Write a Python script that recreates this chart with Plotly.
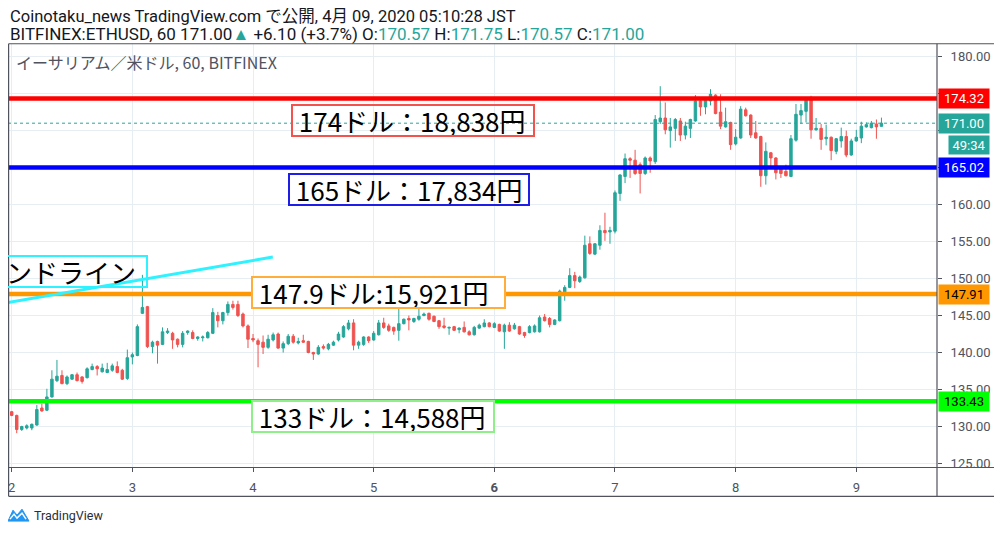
import pandas as pd
import plotly.graph_objects as go

# hourly candles, 2020-04-01 23:00 JST .. 2020-04-09 05:00 JST
times = pd.date_range("2020-04-01 23:00", periods=175, freq="h")

opens = [
    131.1, 132.0, 131.5, 129.6, 129.8, 129.8, 130.2, 132.5, 132.2, 134.0,
    136.2, 136.9, 135.8, 136.4, 137.0, 136.7, 136.6, 137.7, 138.1, 137.4,
    137.3, 137.6, 138.1, 137.6, 136.5, 139.4, 139.6, 145.3, 146.2, 140.8,
    141.5, 141.1, 142.7, 142.6, 141.8, 141.1, 142.7, 142.7, 141.9, 142.0,
    142.0, 142.6, 145.0, 144.3, 145.4, 146.5, 146.5, 145.2, 143.6, 141.9,
    141.6, 141.4, 140.7, 141.7, 142.5, 140.6, 141.2, 142.2, 141.3, 141.6,
    141.5, 140.0, 139.8, 140.8, 140.5, 141.0, 141.7, 142.1, 143.2, 144.0,
    141.0, 141.1, 142.1, 141.7, 142.4, 144.0, 143.6, 143.4, 143.0, 143.9,
    144.6, 144.2, 144.5, 145.0, 145.3, 144.9, 144.3, 143.6, 143.3, 143.5,
    143.1, 143.4, 142.8, 142.4, 143.3, 143.5, 144.0, 143.4, 143.8, 142.8,
    143.7, 143.2, 143.5, 142.7, 142.7, 142.8, 142.8, 144.8, 144.6, 143.8,
    144.3, 148.2, 148.8, 150.4, 149.6, 150.1, 154.7, 153.3, 154.5, 156.5,
    156.3, 156.4, 161.5, 163.8, 166.2, 166.0, 165.4, 164.2, 166.3, 165.8,
    171.2, 171.7, 170.0, 170.3, 171.3, 169.4, 170.3, 171.3, 174.0, 173.2,
    174.0, 174.8, 172.5, 170.5, 171.1, 168.2, 169.0, 172.8, 172.1, 169.7,
    169.2, 163.9, 167.0, 166.3, 164.9, 164.5, 163.8, 168.7, 172.1, 172.6,
    174.2, 170.1, 170.3, 168.9, 169.1, 167.2, 168.6, 169.2, 166.7, 168.6,
    169.0, 170.5, 170.4, 170.9, 170.57,
]
highs = [
    131.8, 132.1, 131.6, 130.1, 130.3, 130.4, 132.9, 133.1, 135.1, 137.6,
    139.0, 137.6, 136.9, 137.1, 137.3, 136.8, 138.0, 138.5, 138.3, 138.5,
    138.6, 138.5, 138.8, 137.8, 140.4, 140.0, 143.8, 150.5, 146.3, 141.6,
    141.6, 143.4, 143.3, 142.8, 141.9, 142.9, 143.0, 143.0, 142.2, 142.3,
    142.9, 146.0, 145.5, 145.5, 146.9, 147.0, 147.0, 145.4, 143.8, 142.5,
    141.9, 142.3, 142.4, 142.7, 142.7, 141.5, 142.5, 142.5, 142.0, 142.4,
    141.6, 140.1, 141.0, 141.1, 141.3, 141.6, 142.8, 143.7, 144.4, 144.5,
    141.6, 142.2, 142.2, 142.9, 144.4, 144.7, 143.9, 143.5, 146.6, 144.6,
    145.0, 144.7, 146.3, 145.4, 145.4, 145.0, 144.4, 144.7, 143.5, 143.6,
    143.4, 144.2, 143.0, 143.6, 143.9, 144.5, 144.1, 144.1, 143.9, 143.9,
    144.1, 144.0, 143.6, 142.8, 143.7, 143.8, 145.0, 145.2, 144.8, 144.5,
    148.5, 149.1, 151.4, 150.9, 150.4, 155.8, 155.7, 154.8, 157.2, 158.9,
    157.0, 161.9, 164.1, 166.9, 166.4, 167.4, 165.7, 166.5, 166.5, 172.1,
    176.0, 173.8, 171.7, 171.7, 171.7, 171.2, 171.6, 174.8, 174.5, 174.2,
    175.6, 174.9, 174.9, 173.1, 171.2, 170.2, 173.3, 173.1, 172.2, 171.3,
    169.3, 168.4, 167.1, 166.4, 165.0, 165.4, 169.4, 173.6, 173.6, 174.3,
    174.7, 171.7, 170.9, 170.8, 169.2, 169.0, 170.4, 170.0, 168.9, 170.1,
    171.2, 171.1, 171.3, 171.5, 171.75,
]
lows = [
    131.0, 131.4, 129.1, 129.4, 129.6, 129.5, 130.1, 132.0, 132.1, 133.9,
    136.0, 135.7, 135.6, 136.3, 136.1, 135.8, 136.5, 137.6, 136.9, 137.3,
    137.2, 137.4, 137.2, 136.3, 136.3, 138.4, 139.5, 145.2, 140.6, 139.9,
    138.5, 141.0, 142.5, 140.5, 140.7, 140.7, 142.4, 141.8, 141.6, 141.5,
    141.9, 142.5, 143.4, 143.8, 145.0, 145.8, 144.8, 143.4, 140.6, 141.4,
    138.0, 139.8, 140.5, 141.5, 140.5, 140.0, 141.0, 141.2, 141.1, 141.3,
    139.9, 139.0, 139.7, 140.4, 140.3, 140.9, 141.5, 142.0, 143.0, 140.3,
    140.5, 140.9, 141.3, 141.6, 142.3, 143.2, 142.8, 142.4, 141.6, 143.8,
    143.0, 144.0, 144.3, 144.9, 144.3, 144.1, 143.2, 143.2, 142.4, 142.9,
    142.6, 142.7, 142.3, 142.3, 143.2, 143.4, 143.4, 143.3, 142.8, 140.5,
    142.8, 143.1, 142.4, 142.0, 142.6, 142.7, 142.7, 144.2, 143.4, 143.7,
    144.2, 147.0, 148.7, 148.7, 149.4, 150.0, 153.2, 153.2, 153.9, 155.1,
    154.7, 156.1, 160.5, 162.9, 163.6, 164.0, 161.5, 164.0, 164.3, 165.5,
    170.9, 169.5, 167.7, 168.6, 168.6, 168.8, 169.0, 171.2, 172.0, 172.2,
    173.4, 172.2, 170.2, 170.4, 167.4, 168.0, 168.9, 171.9, 169.0, 168.9,
    162.4, 162.7, 164.9, 163.4, 163.6, 163.8, 163.7, 168.5, 170.9, 171.1,
    168.9, 170.0, 167.4, 168.0, 166.0, 166.8, 167.7, 166.4, 166.6, 168.5,
    168.3, 170.4, 170.3, 168.9, 170.57,
]
closes = [
    131.7, 131.5, 129.6, 130.0, 130.1, 130.3, 132.3, 132.1, 134.0, 136.4,
    136.8, 135.8, 136.7, 137.0, 136.2, 136.1, 137.8, 138.1, 137.8, 137.9,
    137.7, 138.2, 137.3, 136.4, 139.3, 139.7, 143.5, 146.1, 140.8, 141.4,
    141.0, 142.8, 142.9, 141.7, 141.1, 142.6, 142.9, 141.9, 142.1, 142.1,
    142.7, 145.4, 144.3, 145.4, 146.5, 146.1, 145.0, 143.6, 141.8, 141.7,
    141.1, 140.7, 141.8, 142.4, 140.6, 141.2, 142.2, 141.4, 141.5, 141.4,
    140.0, 139.8, 140.7, 140.6, 141.1, 141.4, 142.5, 143.5, 144.0, 141.0,
    141.4, 142.1, 141.6, 142.6, 144.0, 143.4, 143.0, 142.9, 143.9, 144.5,
    144.4, 144.6, 144.9, 145.2, 144.5, 144.2, 143.5, 143.4, 143.4, 143.0,
    143.3, 142.8, 142.4, 143.4, 143.7, 144.0, 143.5, 143.9, 142.9, 143.7,
    142.9, 143.7, 142.5, 142.3, 143.5, 143.6, 144.7, 144.3, 143.8, 144.4,
    148.3, 148.8, 150.4, 149.7, 150.2, 154.5, 153.4, 154.7, 156.5, 156.2,
    156.5, 161.6, 164.0, 166.2, 166.0, 164.2, 164.2, 166.3, 165.9, 171.5,
    171.7, 170.1, 170.5, 171.5, 169.4, 170.6, 171.5, 174.0, 173.2, 174.1,
    174.9, 172.3, 170.6, 171.2, 168.1, 169.1, 172.9, 172.0, 169.4, 169.0,
    163.9, 167.2, 166.3, 164.3, 164.2, 163.9, 168.9, 172.2, 172.7, 174.1,
    170.1, 170.3, 168.8, 169.1, 167.3, 168.9, 169.2, 166.7, 168.6, 169.1,
    170.6, 170.8, 171.0, 170.5, 171.00,
]

# horizontal levels drawn on the chart
levels = [174.32, 165.02, 147.91, 133.43]
level_colors = ["#ff0000", "#0000ff", "#ff9800", "#00ff00"]
level_text_colors = ["white", "white", "black", "black"]
last_price = 171.00
countdown = "49:34"

day_ticks = pd.date_range("2020-04-02", "2020-04-09", freq="D")
day_labels = ["2", "3", "4", "5", "<b>6</b>", "7", "8", "9"]

# price axis labels (the ones under the price tags are covered in the original)
price_ticks = [125, 130, 135, 140, 145, 150, 155, 160, 165, 170, 175, 180]
price_labels = ["125.00", "130.00", "135.00", "140.00", "145.00", "150.00",
                "155.00", "160.00", "", "", "", "180.00"]

# the page puts the figure 8px in from the top-left corner
OFF = 8
W, H = 1002 - OFF, 537 - OFF
UP, DOWN = "#26a69a", "#ef5350"
FRAME = "#50535e"
GRID = "#e6eef3"


def px(x):
    return (x - OFF) / W


def py(y):
    return 1 - (y - OFF) / H


fig = go.Figure()

fig.add_trace(
    go.Candlestick(
        x=times,
        open=opens,
        high=highs,
        low=lows,
        close=closes,
        increasing=dict(line=dict(color=UP, width=1), fillcolor=UP),
        decreasing=dict(line=dict(color=DOWN, width=1), fillcolor=DOWN),
        whiskerwidth=0,
        showlegend=False,
        hoverinfo="skip",
    )
)

shapes = []

# 現在値の点線
shapes.append(dict(type="line", xref="x domain", yref="y", x0=0, x1=1,
                   y0=last_price, y1=last_price,
                   line=dict(color=UP, width=1, dash="dot")))

# 水平線
for lv, col in zip(levels, level_colors):
    shapes.append(dict(type="line", xref="x domain", yref="y", x0=0, x1=1,
                       y0=lv, y1=lv, line=dict(color=col, width=4.5)))

# トレンドライン
shapes.append(dict(type="line", xref="x", yref="y",
                   x0="2020-04-01 23:15", y0=146.75,
                   x1="2020-04-04 03:56", y1=152.9,
                   line=dict(color="#2ef2ff", width=3)))

# frame
frame = [
    (8.6, 44, 997, 44), (8.6, 44, 8.6, 500), (997, 44, 997, 500),
    (8.6, 500, 997, 500), (8.6, 471, 997, 471), (937, 44, 937, 500),
]
for x0, y0, x1, y1 in frame:
    shapes.append(dict(type="line", xref="paper", yref="paper",
                       x0=px(x0), y0=py(y0), x1=px(x1), y1=py(y1),
                       line=dict(color=FRAME, width=1.2)))

# TradingView logo
logo = [(8, 525), (13, 514), (17, 519), (22, 513), (29, 525)]
path = "M " + " L ".join(f"{px(a)},{py(b)}" for a, b in logo) + " Z"
shapes.append(dict(type="path", xref="paper", yref="paper", path=path,
                   fillcolor="#2196f3", line=dict(color="#2196f3", width=1)))
zig = [(10, 523), (14, 518), (17, 522), (22, 517), (26, 523)]
zpath = "M " + " L ".join(f"{px(a)},{py(b)}" for a, b in zig)
shapes.append(dict(type="path", xref="paper", yref="paper", path=zpath,
                   line=dict(color="white", width=1.5)))

annotations = []

HEAD_FONT = "Roboto, Liberation Sans, sans-serif"
annotations.append(dict(
    xref="paper", yref="paper", x=px(8), y=py(16.2), xanchor="left", yanchor="middle",
    text="Coinotaku_news TradingView.com で公開, 4月 09, 2020 05:10:28 JST",
    showarrow=False, font=dict(family=HEAD_FONT + ", Noto Sans CJK JP", size=16.5, color="#131722"),
))
g = f"<span style='color:{UP}'>"
annotations.append(dict(
    xref="paper", yref="paper", x=px(8), y=py(33.7), xanchor="left", yanchor="middle",
    text=(f"BITFINEX:ETHUSD, 60 171.00{g}▲</span> +6.10 (+3.7%) "
          f"O:{g}170.57</span> H:{g}171.75</span> L:{g}170.57</span> C:{g}171.00</span>"),
    showarrow=False, font=dict(family=HEAD_FONT, size=17, color="#131722"),
))
annotations.append(dict(
    xref="paper", yref="paper", x=px(14), y=py(62), xanchor="left", yanchor="middle",
    text="イーサリアム／米ドル, 60, BITFINEX",
    showarrow=False, font=dict(family="Noto Sans CJK JP", size=16, color="#50535e"),
))
annotations.append(dict(
    xref="paper", yref="paper", x=px(32), y=py(519), xanchor="left", yanchor="middle",
    text="TradingView", showarrow=False,
    font=dict(family="Liberation Sans Narrow, Roboto, sans-serif", size=12.5, color="#2a2e39"),
))

# テキストボックス
BOX_FONT = dict(family="Noto Sans CJK JP", size=26, color="black")
boxes = [
    (" 174ドル：18,838円", 291, 121, 240, "#f4524d", "rgba(0,0,0,0)"),
    (" 165ドル：17,834円", 288, 190.5, 238, "#1e1ee6", "rgba(0,0,0,0)"),
    (" 147.9ドル:15,921円", 251, 294.5, 251, "#ffae3b", "white"),
    (" 133ドル：14,588円", 251, 420, 240, "#8ff08a", "white"),
    ("ンドライン", 4, 273.5, 140, "#2ef2ff", "rgba(0,0,0,0)"),
]
for text, left, cy, w, bc, bg in boxes:
    annotations.append(dict(
        xref="paper", yref="paper", x=px(left), y=py(cy), xanchor="left", yanchor="middle",
        text=text, showarrow=False, align="left", width=w, height=29,
        borderwidth=2, borderpad=0, bordercolor=bc, bgcolor=bg, font=BOX_FONT,
    ))

# 右軸の価格ラベル
TAG_FONT = "Liberation Sans Narrow, Roboto, sans-serif"
for lv, col, tc in zip(levels, level_colors, level_text_colors):
    annotations.append(dict(
        xref="paper", yref="y", x=px(938), y=lv, xanchor="left", yanchor="middle",
        text=f"{lv:.2f}", showarrow=False, width=46, height=15, borderpad=2,
        bgcolor=col, font=dict(family=TAG_FONT, size=13, color=tc),
    ))
annotations.append(dict(
    xref="paper", yref="y", x=px(938), y=last_price, xanchor="left", yanchor="middle",
    text=f"{last_price:.2f}", showarrow=False, width=46, height=15, borderpad=2,
    bgcolor=UP, font=dict(family=TAG_FONT, size=13, color="white"),
))
annotations.append(dict(
    xref="paper", yref="y", x=px(948), y=last_price, yshift=-22, xanchor="left", yanchor="middle",
    text=countdown, showarrow=False, width=36, height=14, borderpad=2,
    bgcolor=UP, font=dict(family=TAG_FONT, size=13, color="white"),
))

fig.update_layout(
    width=W,
    height=H,
    margin=dict(l=0, r=0, t=0, b=0),
    paper_bgcolor="white",
    plot_bgcolor="white",
    showlegend=False,
    shapes=shapes,
    annotations=annotations,
    xaxis=dict(
        domain=[px(8), px(937)],
        type="date",
        range=["2020-04-01 23:15:50", "2020-04-09 16:03"],
        rangeslider=dict(visible=False),
        tickvals=day_ticks,
        ticktext=day_labels,
        showgrid=True, gridcolor=GRID, gridwidth=1,
        ticks="outside", ticklen=4, tickcolor=FRAME,
        showline=False, zeroline=False,
        tickfont=dict(family=TAG_FONT, size=13, color=FRAME),
        ticklabelstandoff=4,
    ),
    yaxis=dict(
        domain=[py(471), py(44)],
        side="right",
        range=[124.46, 181.74],
        tickvals=price_ticks, ticktext=price_labels,
        showgrid=True, gridcolor=GRID, gridwidth=1,
        ticks="outside", ticklen=4, tickcolor=FRAME,
        showline=False, zeroline=False,
        tickfont=dict(family=TAG_FONT, size=13, color=FRAME),
        ticklabelstandoff=6,
    ),
)

fig.write_html("out.html")
